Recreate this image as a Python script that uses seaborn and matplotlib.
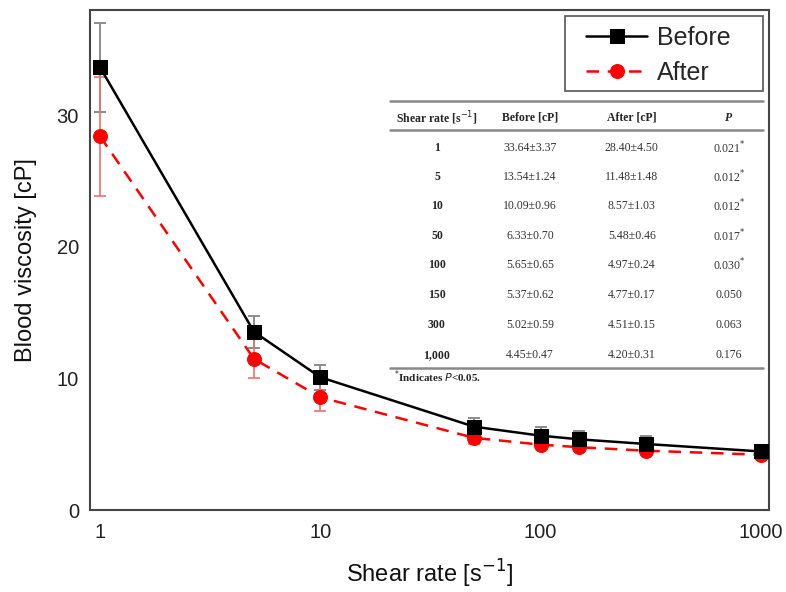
import numpy as np
import pandas as pd
import matplotlib
matplotlib.use("Agg")
import matplotlib.pyplot as plt
from matplotlib.patches import Rectangle
from matplotlib.ticker import FixedLocator, FixedFormatter, NullLocator
import seaborn as sns

shear_rate = [1, 5, 10, 50, 100, 150, 300, 1000]
shear_labels = ["1", "5", "10", "50", "100", "150", "300", "1,000"]
before_mean = [33.64, 13.54, 10.09, 6.33, 5.65, 5.37, 5.02, 4.45]
before_sd = [3.37, 1.24, 0.96, 0.70, 0.65, 0.62, 0.59, 0.47]
after_mean = [28.40, 11.48, 8.57, 5.48, 4.97, 4.77, 4.51, 4.20]
after_sd = [4.50, 1.48, 1.03, 0.46, 0.24, 0.17, 0.15, 0.31]
p_values = ["0.021", "0.012", "0.012", "0.017", "0.030", "0.050", "0.063", "0.176"]
p_signif = [True, True, True, True, True, False, False, False]

sns.set_style("white")
plt.rcParams["font.family"] = ["Liberation Sans", "DejaVu Sans"]

df = pd.DataFrame({"rate": shear_rate, "before": before_mean, "after": after_mean})

fig = plt.figure(figsize=(7.86, 5.92), dpi=100)
ax = fig.add_axes([90 / 786, 1 - 510 / 592, 679 / 786, 500 / 592])
ax.set_xscale("log")

# error bars first so the markers sit on top
ax.errorbar(shear_rate, before_mean, yerr=before_sd, fmt="none", ecolor="#8c8c8c",
            elinewidth=1.4, capsize=4, capthick=1.4, zorder=2)
ax.errorbar(shear_rate, after_mean, yerr=after_sd, fmt="none", ecolor="#f07070",
            elinewidth=1.2, capsize=4, capthick=1.2, zorder=2)

sns.lineplot(data=df, x="rate", y="before", ax=ax, color="black", lw=1.8,
             marker="s", markersize=9.5, markeredgecolor="black", label="Before", zorder=4)
sns.lineplot(data=df, x="rate", y="after", ax=ax, color="red", lw=1.8,
             linestyle=(0, (5, 3.5)), marker="o", markersize=10, markeredgecolor="red",
             label="After", zorder=3)

ax.set_xlim(0.9, 1090)
ax.set_ylim(0, 38)
ax.xaxis.set_major_locator(FixedLocator([1, 10, 100, 1000]))
ax.xaxis.set_major_formatter(FixedFormatter(["1", "10", "100", "1000"]))
ax.xaxis.set_minor_locator(NullLocator())
ax.set_yticks([0, 10, 20, 30])
ax.tick_params(axis="x", length=0, labelsize=14.5, labelcolor="#222222", pad=9)
ax.tick_params(axis="y", length=0, labelsize=14.5, labelcolor="#222222", pad=8)
ax.set_xlabel("Shear rate [s$^{-1}$]", fontsize=17, labelpad=12, color="#111111")
ax.set_ylabel("Blood viscosity [cP]", fontsize=17, labelpad=14, color="#111111")
for s in ax.spines.values():
    s.set_color("#444444")
    s.set_linewidth(1.5)
    s.set_visible(True)

# legend without its own frame, box drawn separately to get the wider right margin
leg = ax.legend(loc="upper left", bbox_to_anchor=(0.7158, 0.988), borderaxespad=0,
                fontsize=18, frameon=False, handlelength=2.45, borderpad=0.4,
                labelspacing=0.42, handletextpad=0.4)
ax.add_patch(Rectangle((0.6996, 0.838), 0.2916, 0.15, transform=ax.transAxes,
                       facecolor="none", edgecolor="#555555", lw=1.2, zorder=6))

# embedded results table
serif = ["Liberation Serif", "DejaVu Serif"]
fs = 8.5
col_x = [0.511, 0.648, 0.798, 0.941]
row_y = [0.724, 0.666, 0.608, 0.548, 0.49, 0.43, 0.37, 0.31]
tx0, tx1 = 0.442, 0.991
for yy in [0.818, 0.76, 0.284]:
    ax.plot([tx0, tx1], [yy, yy], transform=ax.transAxes, color="#888888", lw=1.8,
            zorder=5, clip_on=False)

head_y = 0.784
ax.text(col_x[0], head_y, "Shear rate [s$^{-1}$]", transform=ax.transAxes, ha="center",
        va="center", fontsize=fs, fontweight="bold", family=serif)
ax.text(col_x[1], head_y, "Before [cP]", transform=ax.transAxes, ha="center",
        va="center", fontsize=fs, fontweight="bold", family=serif)
ax.text(col_x[2], head_y, "After [cP]", transform=ax.transAxes, ha="center",
        va="center", fontsize=fs, fontweight="bold", family=serif)
ax.text(col_x[3], head_y, "P", transform=ax.transAxes, ha="center", va="center",
        fontsize=fs, fontweight="bold", fontstyle="italic", family=serif)

for i, yy in enumerate(row_y):
    ax.text(col_x[0], yy, shear_labels[i], transform=ax.transAxes, ha="center",
            va="center", fontsize=fs, fontweight="bold", family=serif)
    ax.text(col_x[1], yy, f"{before_mean[i]:.2f}\u00b1{before_sd[i]:.2f}",
            transform=ax.transAxes, ha="center", va="center", fontsize=fs, family=serif,
            color="#333333")
    ax.text(col_x[2], yy, f"{after_mean[i]:.2f}\u00b1{after_sd[i]:.2f}",
            transform=ax.transAxes, ha="center", va="center", fontsize=fs, family=serif,
            color="#333333")
    ptxt = p_values[i] + ("$^{*}$" if p_signif[i] else "")
    ax.text(col_x[3], yy, ptxt, transform=ax.transAxes, ha="center", va="center",
            fontsize=fs, family=serif, color="#333333")

ax.text(0.447, 0.266, "$^{*}$Indicates $P$<0.05.", transform=ax.transAxes, ha="left",
        va="center", fontsize=8, fontweight="bold", family=serif)

fig.savefig("out.png", dpi=100)
